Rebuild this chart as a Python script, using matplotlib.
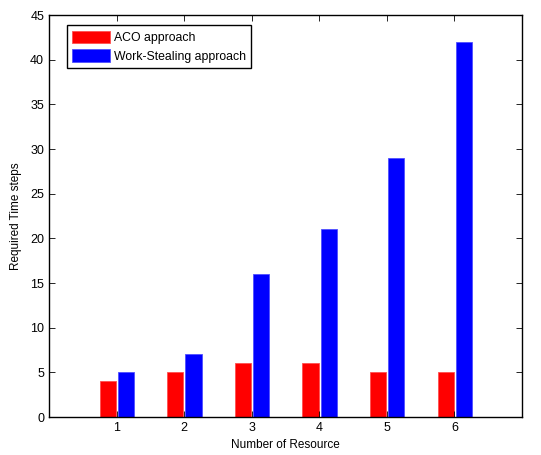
import numpy as np
import matplotlib.pyplot as plt

# ===== data =====
resources = [1, 2, 3, 4, 5, 6]
aco_steps = [4, 5, 6, 6, 5, 5]
ws_steps = [5, 7, 16, 21, 29, 42]
series_names = ["ACO approach", "Work-Stealing approach"]

plt.rcParams['font.family'] = ['Liberation Sans', 'DejaVu Sans']

fig = plt.figure(figsize=(5.41, 4.55), dpi=100)
ax = fig.add_axes([0.0905, 0.0835, 0.8745, 0.8835])

x = np.array(resources)
w = 0.24
ax.bar(x - 0.13, aco_steps, width=w, color='#ff0000', edgecolor='#ff5050', linewidth=0.6,
       label=series_names[0])
ax.bar(x + 0.14, ws_steps, width=w, color='#0000ff', edgecolor='#5050ff', linewidth=0.6,
       label=series_names[1])

ax.set_xlim(0, 7)
ax.set_ylim(0, 45)
ax.set_xticks(resources)
ax.set_yticks(np.arange(0, 46, 5))
ax.tick_params(direction='in', top=True, right=True, labelsize=9, length=4, width=0.6)
for s in ax.spines.values():
    s.set_linewidth(1.0)

ax.set_xlabel("Number of Resource", fontsize=8.5, labelpad=4)
ax.set_ylabel("Required Time steps", fontsize=8.5, labelpad=6)

leg = ax.legend(loc='upper left', bbox_to_anchor=(0.038, 0.975), fontsize=8.8,
                fancybox=False, framealpha=1, edgecolor='black',
                handlelength=3.1, handleheight=1.2, handletextpad=0.3,
                borderpad=0.45, labelspacing=0.45, borderaxespad=0)
leg.get_frame().set_linewidth(1.0)

fig.savefig("out.png", dpi=100)
